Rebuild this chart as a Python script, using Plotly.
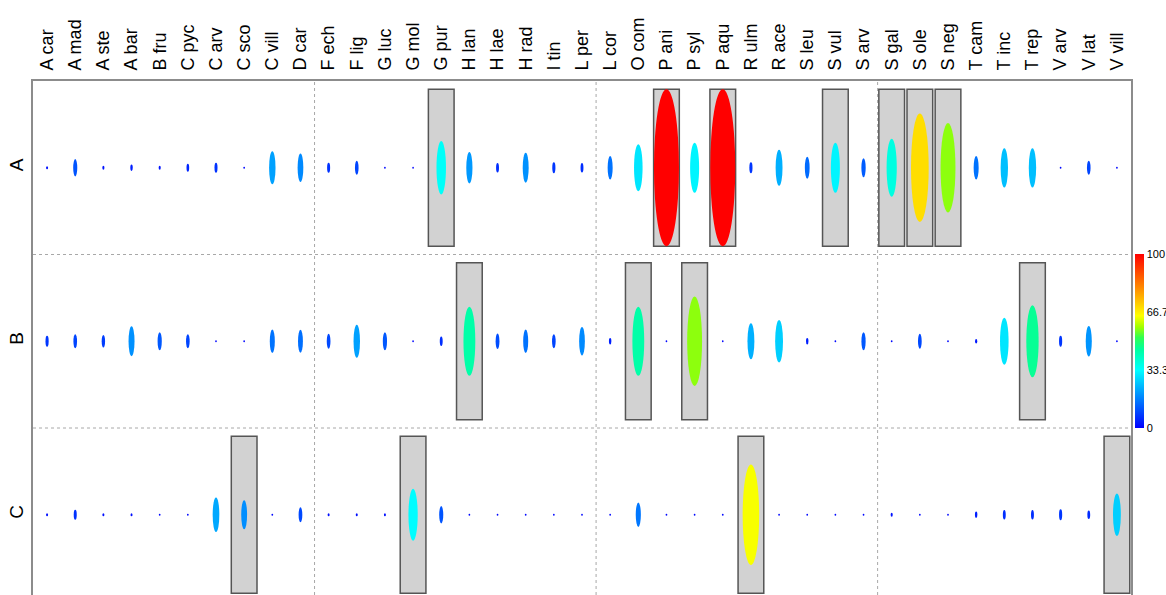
import plotly.graph_objects as go
from plotly.colors import sample_colorscale

species = ["A car", "A mad", "A ste", "A bar", "B fru", "C pyc", "C arv", "C sco", "C vill", "D car",
           "F ech", "F lig", "G luc", "G mol", "G pur", "H lan", "H lae", "H rad", "I tin", "L per",
           "L cor", "O com", "P ani", "P syl", "P aqu", "R ulm", "R ace", "S leu", "S vul", "S arv",
           "S gal", "S ole", "S neg", "T cam", "T inc", "T rep", "V arv", "V lat", "V vill"]
rows = ["A", "B", "C"]

vals_A = [2, 11, 2.5, 4, 2.5, 5, 6.5, 1, 21, 18,
          6.5, 9, 1, 0.5, 34, 20, 6, 19, 7, 6,
          15, 30, 100, 32, 100, 7, 23, 14, 32, 12,
          37, 69, 57, 15, 25, 25, 1, 9, 1]
vals_B = [7, 9, 8, 19, 11.5, 9, 0.8, 0.8, 15, 14.5,
          9.5, 21, 11.5, 0.7, 6, 44, 10, 15, 9, 18,
          4, 44, 0.7, 57, 0.7, 23, 27, 4, 1, 11.5,
          1, 9.5, 1, 3, 30, 46, 7, 19.5, 1]
vals_C = [2, 6.5, 2, 2, 1, 1, 22, 18.5, 1, 9.5,
          2, 2, 2, 33, 11, 1, 1, 1, 1, 1,
          1, 15.5, 1, 1, 1, 64, 1, 1, 1, 1,
          2.5, 1, 1, 4, 6, 6, 7, 5.5, 27]

boxes_A = ["G pur", "P ani", "P aqu", "S vul", "S gal", "S ole", "S neg"]
boxes_B = ["H lan", "O com", "P syl", "T rep"]
boxes_C = ["C sco", "G mol", "R ulm", "V vill"]

colorbar_ticks = [0, 33.3, 66.7, 100]

colorscale = [[0, "rgb(0,0,255)"], [0.333, "rgb(0,255,255)"], [0.45, "rgb(0,255,160)"],
              [0.52, "rgb(48,255,80)"], [0.58, "rgb(160,255,0)"], [0.645, "rgb(255,255,0)"],
              [0.82, "rgb(255,128,0)"], [1, "rgb(255,0,0)"]]

W, H = 1166, 595
ML, MR, MT, MB = 33, 35, 81, 0
plot_w = W - ML - MR
plot_h = H - MT - MB
ncol = len(species)
col_px = plot_w / ncol
row_px = 173.5
y_top = 2.5
y_bot = y_top - plot_h / row_px

row_y = {"A": 2, "B": 1, "C": 0}
row_vals = {"A": vals_A, "B": vals_B, "C": vals_C}
row_boxes = {"A": boxes_A, "B": boxes_B, "C": boxes_C}

shapes = []
# grid separators
for xb in [9.5, 19.5, 29.5]:
    shapes.append(dict(type="line", xref="x", yref="paper", x0=xb, x1=xb, y0=0, y1=1,
                       line=dict(color="#a8a8a8", width=1, dash="dot"), layer="below"))
for yb in [1.5, 0.5]:
    shapes.append(dict(type="line", xref="paper", yref="y", x0=0, x1=1, y0=yb, y1=yb,
                       line=dict(color="#a8a8a8", width=1, dash="dot"), layer="below"))

# highlight boxes
bx_half = 12.85 / col_px
by_half = 78.5 / row_px
for r in rows:
    yc = row_y[r]
    for s in row_boxes[r]:
        xc = species.index(s)
        shapes.append(dict(type="rect", xref="x", yref="y",
                           x0=xc - bx_half, x1=xc + bx_half, y0=yc - by_half, y1=yc + by_half,
                           fillcolor="#d2d2d2", line=dict(color="#555555", width=1.5)))

# ellipses
for r in rows:
    yc = row_y[r]
    vals = row_vals[r]
    cols = sample_colorscale(colorscale, [min(max(v / 100, 0), 1) for v in vals])
    for i, v in enumerate(vals):
        w_px = 1.5 + 0.235 * v
        h_px = max(1.57 * v, 2.0)
        hw = w_px / 2 / col_px
        hh = h_px / 2 / row_px
        shapes.append(dict(type="circle", xref="x", yref="y",
                           x0=i - hw, x1=i + hw, y0=yc - hh, y1=yc + hh,
                           fillcolor=cols[i], line=dict(width=0)))

fig = go.Figure()
fig.add_trace(go.Scatter(
    x=[None], y=[None], mode="markers", showlegend=False, hoverinfo="skip",
    marker=dict(color=[0], cmin=0, cmax=100, colorscale=colorscale, showscale=True,
                colorbar=dict(x=1.004, xanchor="left", xref="paper", y=0.494, yanchor="middle",
                              len=174, lenmode="pixels", thickness=9, outlinewidth=0,
                              tickvals=colorbar_ticks, ticktext=["0", "33.3", "66.7", "100"],
                              ticks="", ticklabelposition="outside",
                              tickfont=dict(family="Liberation Sans", size=11, color="#000000"),
                              xpad=0, ypad=0))))

fig.update_layout(
    width=W, height=H,
    margin=dict(l=ML, r=MR, t=MT, b=MB, pad=0, autoexpand=False),
    paper_bgcolor="white", plot_bgcolor="white",
    shapes=shapes,
    font=dict(family="Liberation Sans", color="#000000"),
    xaxis=dict(range=[-0.5, ncol - 0.5], side="top", tickmode="array",
               tickvals=list(range(ncol)), ticktext=species, tickangle=-90,
               tickfont=dict(family="Liberation Sans", size=18, color="#000000"),
               ticklabelstandoff=5,
               showgrid=False, zeroline=False, ticks="", showline=True,
               linecolor="#8c8c8c", linewidth=2, fixedrange=True),
    yaxis=dict(range=[y_bot, y_top], tickmode="array", tickvals=[row_y[r] for r in rows],
               ticktext=rows, tickangle=-90,
               tickfont=dict(family="Liberation Sans", size=19, color="#000000"),
               showgrid=False, zeroline=False, ticks="", showline=True, mirror=True,
               linecolor="#8c8c8c", linewidth=2, fixedrange=True),
)

fig.write_html("out.html")
